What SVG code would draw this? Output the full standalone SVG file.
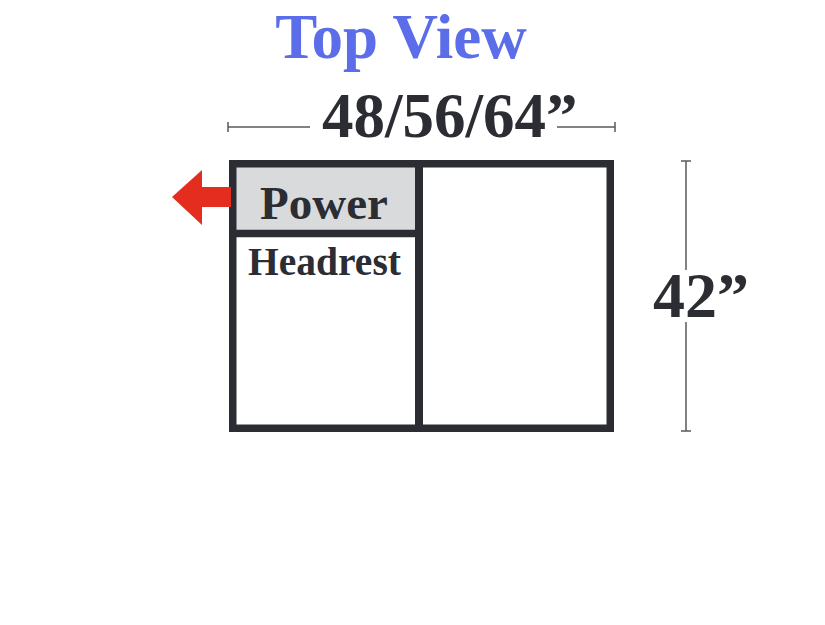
<svg xmlns="http://www.w3.org/2000/svg" width="825" height="625" viewBox="0 0 825 625">
<style>
.t{font-family:"Liberation Serif","Times New Roman",serif;font-weight:bold;fill:#2b2d33}
.dim{stroke:#5a5a5e;stroke-width:1.5;fill:none}
.frame{stroke:#2b2d33;stroke-width:7.5;fill:none}
</style>
<rect width="825" height="625" fill="#ffffff"/>
<text class="t" x="401" y="58" font-size="63" text-anchor="middle" style="fill:#5b6de8">Top View</text>
<g id="dimensions">
<path class="dim" d="M228,127 H310 M557,127 H615 M228,122 V132 M615,122 V132"/>
<text class="t" x="322" y="137" font-size="63">48/56/64”</text>
<path class="dim" d="M686,161 V270 M686,322 V431 M681,161 H691 M681,431 H691"/>
<text class="t" x="653" y="317" font-size="64">42”</text>
</g>
<g id="power">
<rect x="236" y="167" width="179" height="63" fill="#d9dadc"/>
<text class="t" x="324" y="219" font-size="47" text-anchor="middle">Power</text>
</g>
<g id="headrest">
<text class="t" x="324.5" y="275" font-size="39.5" text-anchor="middle">Headrest</text>
</g>
<g id="seat-right"></g>
<g id="frame">
<rect class="frame" x="232.75" y="163.75" width="377.5" height="264.5"/>
<path class="frame" d="M419,164 V428" style="stroke-width:8"/>
<path class="frame" d="M233,233.5 H419"/>
</g>
<g id="connectors">
<polygon points="172,197 202,170 202,187 231,187 231,207 202,207 202,225" fill="#e42d1e"/>
</g>
</svg>
